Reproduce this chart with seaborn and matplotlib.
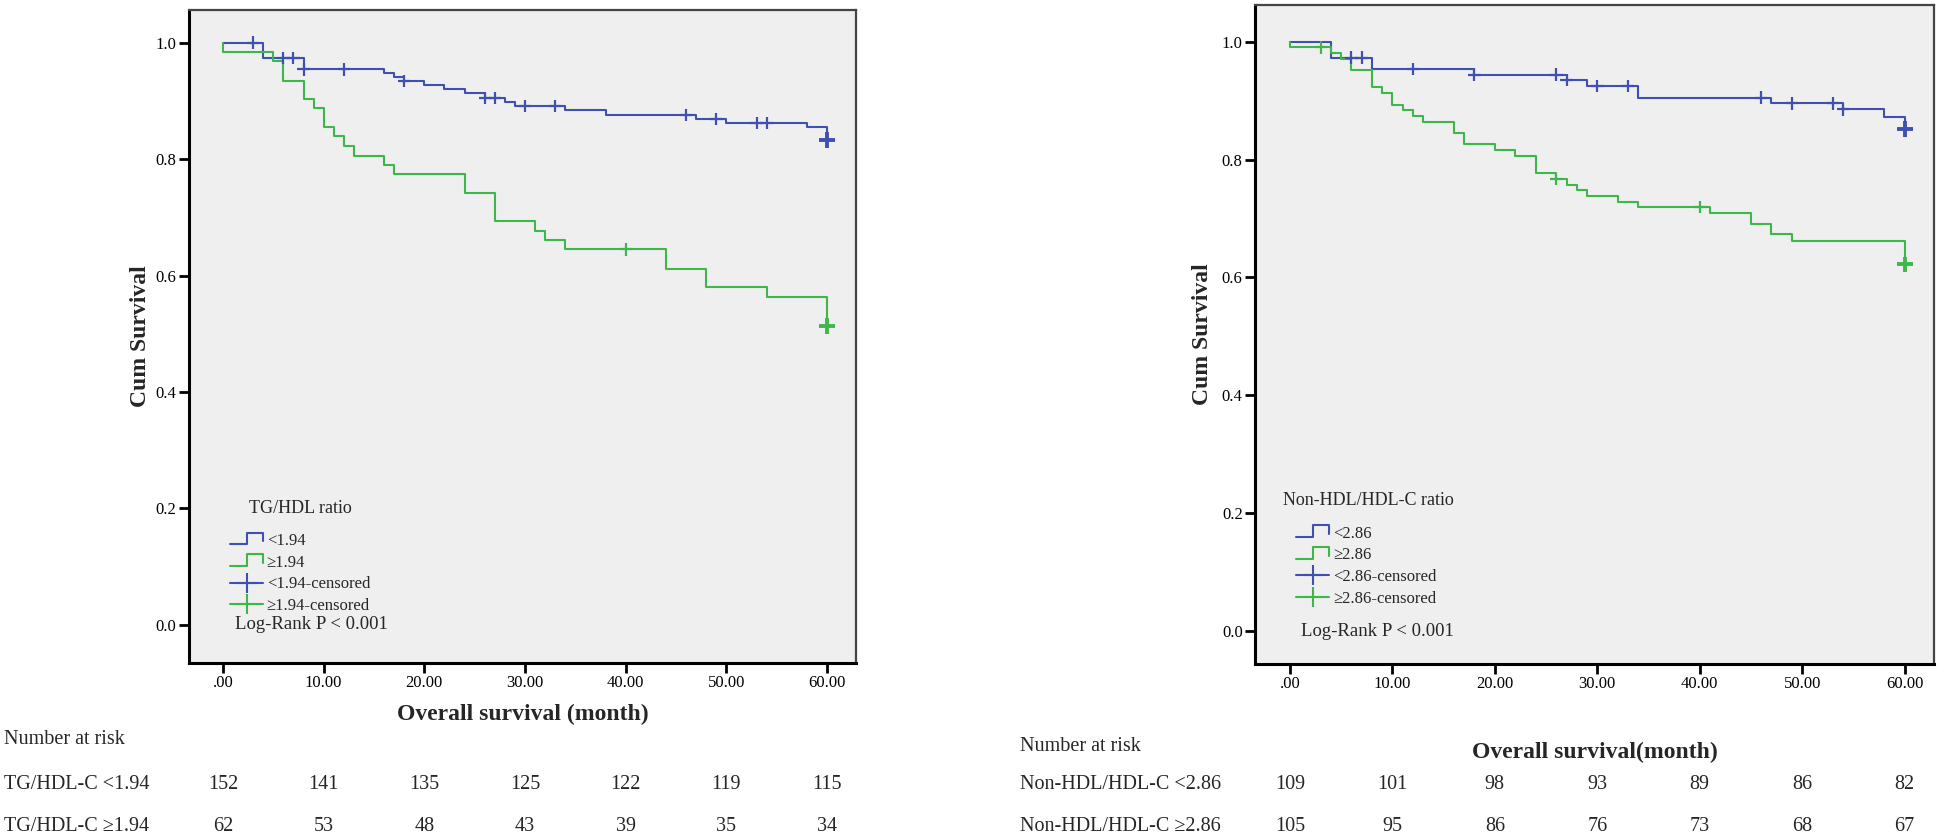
import numpy as np
import pandas as pd
import matplotlib
matplotlib.use("Agg")
import matplotlib.pyplot as plt
import matplotlib.transforms as mtransforms
from matplotlib.lines import Line2D
from matplotlib.legend_handler import HandlerBase
import seaborn as sns

# Left panel: TG/HDL ratio
tg_low_times = [4, 8, 16, 17, 18, 20, 22, 24, 26, 28, 29, 34, 38, 47, 50, 58, 60]
tg_low_surv = [0.974, 0.954, 0.948, 0.941, 0.934, 0.927, 0.920, 0.913, 0.905, 0.898,
               0.891, 0.884, 0.876, 0.869, 0.862, 0.855, 0.833]
tg_low_cens = [3, 6, 7, 8, 12, 18, 26, 27, 30, 33, 46, 49, 53, 54, 60]

tg_high_times = [0, 5, 6, 8, 9, 10, 11, 12, 13, 16, 17, 24, 27, 31, 32, 34, 44, 48, 54, 60]
tg_high_surv = [0.984, 0.968, 0.935, 0.903, 0.887, 0.855, 0.839, 0.823, 0.806, 0.790,
                0.774, 0.742, 0.694, 0.677, 0.661, 0.645, 0.612, 0.580, 0.563, 0.513]
tg_high_cens = [40, 60]

# Right panel: Non-HDL/HDL-C ratio
nh_low_times = [4, 8, 18, 27, 29, 34, 47, 54, 58, 60]
nh_low_surv = [0.973, 0.954, 0.944, 0.935, 0.925, 0.905, 0.895, 0.885, 0.872, 0.852]
nh_low_cens = [6, 7, 12, 18, 26, 27, 30, 33, 46, 49, 53, 54, 60]

nh_high_times = [0, 4, 5, 6, 8, 9, 10, 11, 12, 13, 16, 17, 20, 22, 24, 26, 27, 28, 29,
                 32, 34, 41, 45, 47, 49, 60]
nh_high_surv = [0.990, 0.981, 0.971, 0.952, 0.923, 0.913, 0.893, 0.884, 0.874, 0.864,
                0.845, 0.826, 0.816, 0.806, 0.777, 0.767, 0.757, 0.748, 0.738, 0.728,
                0.719, 0.709, 0.690, 0.674, 0.661, 0.622]
nh_high_cens = [3, 26, 40, 60]

# Number at risk
risk_months = [0, 10, 20, 30, 40, 50, 60]
tg_risk_low = [152, 141, 135, 125, 122, 119, 115]
tg_risk_high = [62, 53, 48, 43, 39, 35, 34]
nh_risk_low = [109, 101, 98, 93, 89, 86, 82]
nh_risk_high = [105, 95, 86, 76, 73, 68, 67]

BLUE = "#3f50b0"
GREEN = "#3fb64b"

sns.set_style("white")
plt.rcParams["font.family"] = ["Liberation Serif", "DejaVu Serif"]


class StepHandler(HandlerBase):
    # SPSS-like step glyph for the legend
    def create_artists(self, legend, orig_handle, xdescent, ydescent, width, height, fontsize, trans):
        x0, y0 = -xdescent, -ydescent
        xs = [x0, x0 + 0.5 * width, x0 + 0.5 * width, x0 + width, x0 + width]
        ys = [y0, y0, y0 + 1.1 * height, y0 + 1.1 * height, y0 + 0.3 * height]
        ln = Line2D(xs, ys, color=orig_handle.get_color(), lw=1.5, transform=trans)
        return [ln]


def steps_df(times, surv, group):
    t = [0.0] + list(times)
    s = [1.0] + list(surv)
    return pd.DataFrame({"time": t, "surv": s, "group": group})


def cens_df(times, surv, cens, group):
    t = np.array(times)
    s = np.array([1.0] + list(surv))
    idx = np.searchsorted(t, cens, side="right")
    return pd.DataFrame({"time": cens, "surv": s[idx], "group": group})


def km_panel(ax, groups, labels, title, title_x, title_y, leg_x, leg_y, ylab_x, xlab, xlab_y, ylim):
    pal = {labels[0]: BLUE, labels[1]: GREEN}
    lines = pd.concat([steps_df(g[0], g[1], lab) for g, lab in zip(groups, labels)])
    cens = pd.concat([cens_df(g[0], g[1], g[2], lab) for g, lab in zip(groups, labels)])
    last = cens[cens["time"] == cens["time"].max()]
    rest = cens[cens["time"] < cens["time"].max()]

    sns.lineplot(data=lines, x="time", y="surv", hue="group", palette=pal, estimator=None,
                 sort=False, drawstyle="steps-post", lw=1.5, legend=False, ax=ax)
    sns.scatterplot(data=rest, x="time", y="surv", hue="group", palette=pal, marker="+",
                    s=80, linewidth=1.6, legend=False, ax=ax, zorder=3)
    sns.scatterplot(data=last, x="time", y="surv", hue="group", palette=pal, marker="+",
                    s=130, linewidth=2.8, legend=False, ax=ax, zorder=3)

    ax.set_facecolor("#efefef")
    ax.set_xlim(-3.4, 62.9)
    ax.set_ylim(*ylim)
    ax.set_xticks(risk_months)
    ax.set_xticklabels([".00"] + [f"{m:.2f}" for m in risk_months[1:]])
    ax.set_yticks([0, 0.2, 0.4, 0.6, 0.8, 1.0])
    ax.set_yticklabels(["0.0", "0.2", "0.4", "0.6", "0.8", "1.0"])
    ax.tick_params(direction="out", length=7, width=2, labelsize=12, pad=2,
                   left=True, bottom=True, colors="black")
    for side in ["left", "bottom"]:
        ax.spines[side].set_linewidth(2.2)
        ax.spines[side].set_color("black")
    for side in ["top", "right"]:
        ax.spines[side].set_linewidth(1.6)
        ax.spines[side].set_color("#444444")

    ax.set_ylabel("Cum Survival", fontsize=17, fontweight="bold")
    ax.yaxis.set_label_coords(ylab_x, 0.5)
    ax.set_xlabel(xlab, fontsize=17, fontweight="bold")
    ax.xaxis.set_label_coords(0.5, xlab_y)

    ax.text(title_x, title_y, title, fontsize=13, va="center", ha="left")
    handles = [Line2D([], [], color=BLUE), Line2D([], [], color=GREEN),
               Line2D([], [], color=BLUE, lw=1.5, marker="+", markersize=15, mew=1.5),
               Line2D([], [], color=GREEN, lw=1.5, marker="+", markersize=15, mew=1.5)]
    names = [labels[0], labels[1], labels[0] + "-censored", labels[1] + "-censored"]
    h = StepHandler()
    ax.legend(handles, names, loc="upper left", bbox_to_anchor=(leg_x, leg_y),
              bbox_transform=ax.transData, frameon=False, fontsize=12,
              handlelength=2.0, handleheight=0.6, handletextpad=0.2, labelspacing=0.34,
              borderpad=0, borderaxespad=0, numpoints=1,
              handler_map={handles[0]: h, handles[1]: h})
    ax.text(leg_x + 0.5, 0.0, "Log-Rank P < 0.001", fontsize=13.5, va="center", ha="left")


def risk_table(fig, ax, label_x, head_y, row_y, names, rows):
    trans = mtransforms.blended_transform_factory(ax.transData, fig.transFigure)
    fig.text(label_x, head_y, "Number at risk", fontsize=14.5, va="center", ha="left")
    for y, name, vals in zip(row_y, names, rows):
        fig.text(label_x, y, name, fontsize=14.5, va="center", ha="left")
        for m, v in zip(risk_months, vals):
            ax.text(m, y, str(v), fontsize=14.5, va="center", ha="center", transform=trans)


fig = plt.figure(figsize=(19.46, 8.4), dpi=100)
ax1 = fig.add_axes([0.097, 0.211, 0.343, 0.777])
ax2 = fig.add_axes([0.645, 0.210, 0.349, 0.784])

km_panel(ax1, [(tg_low_times, tg_low_surv, tg_low_cens), (tg_high_times, tg_high_surv, tg_high_cens)],
         ["<1.94", "\u22651.94"], "TG/HDL ratio", 2.6, 0.2, 0.7, 0.158, -0.057,
         "Overall survival (month)", -0.063, (-0.065, 1.056))
km_panel(ax2, [(nh_low_times, nh_low_surv, nh_low_cens), (nh_high_times, nh_high_surv, nh_high_cens)],
         ["<2.86", "\u22652.86"], "Non-HDL/HDL-C ratio", -0.7, 0.222, 0.6, 0.179, -0.062,
         "Overall survival(month)", -0.119, (-0.055, 1.062))

risk_table(fig, ax1, 0.002, 0.12, [0.066, 0.016],
           ["TG/HDL-C <1.94", "TG/HDL-C \u22651.94"], [tg_risk_low, tg_risk_high])
risk_table(fig, ax2, 0.524, 0.111, [0.066, 0.016],
           ["Non-HDL/HDL-C <2.86", "Non-HDL/HDL-C \u22652.86"], [nh_risk_low, nh_risk_high])

fig.savefig("out.png", dpi=100, facecolor="white")
